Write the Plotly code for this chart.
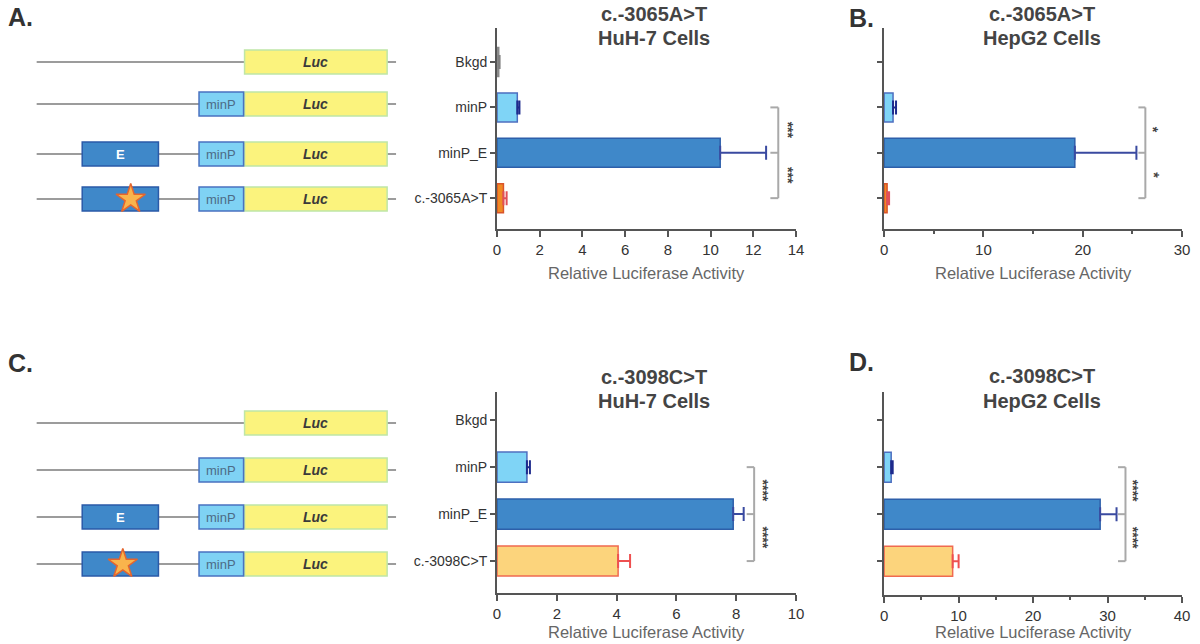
import plotly.graph_objects as go

W, H = 1200, 644

# ---------------- data ----------------
cats_A = ["Bkgd", "minP", "minP_E", "c.-3065A>T"]
cats_C = ["Bkgd", "minP", "minP_E", "c.-3098C>T"]

huh7_3065_mean = [0.08, 0.95, 10.45, 0.30]
huh7_3065_top = [0.12, 1.05, 12.60, 0.45]
hepg2_3065_mean = [0.0, 0.90, 19.2, 0.30]
hepg2_3065_top = [0.0, 1.20, 25.4, 0.50]
huh7_3098_mean = [0.0, 1.00, 7.90, 4.05]
huh7_3098_top = [0.0, 1.10, 8.25, 4.45]
hepg2_3098_mean = [0.0, 0.95, 29.0, 9.2]
hepg2_3098_top = [0.0, 1.15, 31.2, 10.0]

sig_A = ["***", "***"]
sig_B = ["*", "*"]
sig_C = ["****", "****"]
sig_D = ["****", "****"]

x_ticks_A = [0, 2, 4, 6, 8, 10, 12, 14]
x_ticks_B = [0, 10, 20, 30]
x_ticks_C = [0, 2, 4, 6, 8, 10]
x_ticks_D = [0, 10, 20, 30, 40]

FONT = "Liberation Sans, Arial, sans-serif"
TXT = "#333333"

fill_3065 = ["#9a9a9a", "#7fd4f6", "#3f88c9", "#f08a24"]
line_3065 = ["#8a8a8a", "#4d6fc0", "#2d5faa", "#d9542a"]
err_3065 = ["#808080", "#1d2a8c", "#3a4aa0", "#e0505a"]
fill_3098 = ["#9a9a9a", "#7fd4f6", "#3f88c9", "#fcd47c"]
line_3098 = ["#8a8a8a", "#4d6fc0", "#2d5faa", "#f06a50"]
err_3098 = ["#808080", "#1d2a8c", "#3a4aa0", "#ee5050"]

fig = go.Figure()


def px_x(p):
    return p / W


def px_y(p):
    return 1 - p / H


def ann(**kw):
    d = dict(showarrow=False, xanchor="center", yanchor="middle")
    d.update(kw)
    return d


panels = [
    dict(ax="", cats=cats_A, m=huh7_3065_mean, t=huh7_3065_top, f=fill_3065, l=line_3065, e=err_3065,
         xr=[0, 14], tk=x_ticks_A, minor=None, xd=(498, 800), yd=(28, 229), yr=[3.68, -0.75], lab=True,
         bx=13.17, btk=12.8, sx=13.6, sig=sig_A, tty=273),
    dict(ax="2", cats=cats_A, m=hepg2_3065_mean, t=hepg2_3065_top, f=fill_3065, l=line_3065, e=err_3065,
         xr=[0, 30], tk=x_ticks_B, minor=5, xd=(889, 1190), yd=(28, 229), yr=[3.68, -0.75], lab=False,
         bx=26.3, btk=25.6, sx=27.1, sig=sig_B, tty=273),
    dict(ax="3", cats=cats_C, m=huh7_3098_mean, t=huh7_3098_top, f=fill_3098, l=line_3098, e=err_3098,
         xr=[0, 10], tk=x_ticks_C, minor=None, xd=(498, 800), yd=(392, 593), yr=[3.68, -0.6], lab=True,
         bx=8.6, btk=8.35, sx=8.9, sig=sig_C, tty=632),
    dict(ax="4", cats=cats_C, m=hepg2_3098_mean, t=hepg2_3098_top, f=fill_3098, l=line_3098, e=err_3098,
         xr=[0, 40], tk=x_ticks_D, minor=5, xd=(889, 1190), yd=(392, 595), yr=[3.72, -0.6], lab=False,
         bx=32.4, btk=31.4, sx=33.4, sig=sig_D, tty=632),
]

layout = {}
shapes = []
annotations = []

for p in panels:
    xa = "x" + p["ax"]
    ya = "y" + p["ax"]
    for i, c in enumerate(p["cats"]):
        if p["m"][i] <= 0 and p["t"][i] <= 0:
            continue
        fig.add_trace(go.Bar(
            x=[p["m"][i]], y=[i], orientation="h", width=0.64,
            marker=dict(color=p["f"][i], line=dict(color=p["l"][i], width=1.5)),
            error_x=dict(type="data", symmetric=False, array=[p["t"][i] - p["m"][i]], arrayminus=[0],
                         color=p["e"][i], thickness=2, width=7),
            xaxis=xa, yaxis=ya, showlegend=False, hoverinfo="skip"))
    xkey = "xaxis" + p["ax"]
    ykey = "yaxis" + p["ax"]
    xaxis = dict(domain=[px_x(p["xd"][0]), px_x(p["xd"][1])], range=p["xr"], anchor=ya,
                 tickmode="array", tickvals=p["tk"], ticks="outside", ticklen=6, tickwidth=2,
                 tickcolor="#555555", showline=True, linecolor="#555555", linewidth=2,
                 showgrid=False, zeroline=False, fixedrange=True,
                 tickfont=dict(family=FONT, size=15, color=TXT))
    if p["minor"]:
        xaxis["minor"] = dict(dtick=p["minor"], ticks="outside", ticklen=3, tickwidth=1.5,
                              tickcolor="#555555", showgrid=False)
    layout[xkey] = xaxis
    layout[ykey] = dict(domain=[px_y(p["yd"][1]), px_y(p["yd"][0])], range=p["yr"], anchor=xa,
                        tickmode="array", tickvals=[0, 1, 2, 3],
                        ticktext=p["cats"] if p["lab"] else ["", "", "", ""],
                        ticks="outside", ticklen=5, tickwidth=1.5, tickcolor="#555555",
                        showline=True, linecolor="#555555", linewidth=2, showgrid=False,
                        zeroline=False, fixedrange=True,
                        tickfont=dict(family=FONT, size=14, color=TXT))
    # significance brackets
    br = dict(type="line", xref=xa, yref=ya, line=dict(color="#a9a9a9", width=2))
    shapes.append(dict(br, x0=p["bx"], x1=p["bx"], y0=1, y1=3))
    for yy in (1, 2, 3):
        shapes.append(dict(br, x0=p["btk"], x1=p["bx"], y0=yy, y1=yy))
    for k, yy in enumerate((1.5, 2.5)):
        annotations.append(ann(x=p["sx"], y=yy, xref=xa, yref=ya, text="<b>%s</b>" % p["sig"][k],
                               textangle=90, font=dict(family=FONT, size=14, color="#444444")))
    # x axis title
    annotations.append(ann(x=(p["xd"][0] + p["xd"][1]) / 2 / W, y=px_y(p["tty"]), xref="paper",
                           yref="paper", text="Relative Luciferase Activity",
                           font=dict(family=FONT, size=16.5, color="#666666")))

# titles
titles = [
    (657, 14, "c.-3065A>T"), (657, 38, "HuH-7 Cells"),
    (1048, 14, "c.-3065A>T"), (1048, 38, "HepG2 Cells"),
    (657, 377, "c.-3098C>T"), (657, 401, "HuH-7 Cells"),
    (1048, 376, "c.-3098C>T"), (1048, 401, "HepG2 Cells"),
]
for tx, ty, tt in titles:
    annotations.append(ann(x=px_x(tx), y=px_y(ty), xref="paper", yref="paper", text="<b>%s</b>" % tt,
                           font=dict(family=FONT, size=20, color="#444444")))

for tx, ty, tt in [(17, 17, "A."), (866, 18, "B."), (17, 363, "C."), (866, 362, "D.")]:
    annotations.append(ann(x=px_x(tx), y=px_y(ty), xref="paper", yref="paper", text="<b>%s</b>" % tt,
                           font=dict(family=FONT, size=25, color="#333333")))

# ---------------- construct diagrams (pixel canvas axis x5/y5) ----------------
layout["xaxis5"] = dict(domain=[0, 1], range=[0, W], visible=False, anchor="y5", fixedrange=True)
layout["yaxis5"] = dict(domain=[0, 1], range=[H, 0], visible=False, anchor="x5", fixedrange=True)

rows_top = [62, 104, 154, 199]
rows_bot = [423, 470, 517, 564]
star_x_top = 128
star_x_bot = 120
has_minP = [False, True, True, True]
has_E = [False, False, True, True]
has_star = [False, False, False, True]

star_pts_x = []
star_pts_y = []
for rows, sx in ((rows_top, star_x_top), (rows_bot, star_x_bot)):
    for i, yc in enumerate(rows):
        cv = dict(xref="x5", yref="y5", layer="below")
        shapes.append(dict(cv, type="line", x0=33, x1=396, y0=yc, y1=yc,
                           line=dict(color="#9c9c9c", width=2)))
        shapes.append(dict(cv, type="rect", x0=243, x1=387, y0=yc - 12, y1=yc + 12,
                           fillcolor="#fbf37d", line=dict(color="#bfe6a6", width=1.5)))
        annotations.append(ann(x=315, y=yc, xref="x5", yref="y5", text="<b><i>Luc</i></b>",
                               font=dict(family=FONT, size=14, color="#3a3a3a")))
        if has_minP[i]:
            shapes.append(dict(cv, type="rect", x0=197, x1=242, y0=yc - 12, y1=yc + 12,
                               fillcolor="#7fd2f4", line=dict(color="#4a72c0", width=1.5)))
            annotations.append(ann(x=219.5, y=yc, xref="x5", yref="y5", text="minP",
                                   font=dict(family=FONT, size=13, color="#4d6b86")))
        if has_E[i]:
            shapes.append(dict(cv, type="rect", x0=79, x1=156, y0=yc - 12, y1=yc + 12,
                               fillcolor="#3f88c9", line=dict(color="#2a5aa8", width=1.5)))
            if not has_star[i]:
                annotations.append(ann(x=117.5, y=yc, xref="x5", yref="y5", text="<b>E</b>",
                                       font=dict(family=FONT, size=13, color="#ffffff")))
        if has_star[i]:
            star_pts_x.append(sx)
            star_pts_y.append(yc)

fig.add_trace(go.Scatter(x=star_pts_x, y=star_pts_y, mode="markers", xaxis="x5", yaxis="y5",
                         marker=dict(symbol="star", size=22, color="#f9b44c",
                                     line=dict(color="#e5652e", width=1.5)),
                         showlegend=False, hoverinfo="skip", cliponaxis=False))

fig.update_layout(width=W, height=H, margin=dict(l=0, r=0, t=0, b=0), paper_bgcolor="white",
                  plot_bgcolor="rgba(0,0,0,0)", shapes=shapes, annotations=annotations,
                  barmode="overlay", **layout)

fig.write_html("out.html", config={"displayModeBar": False},
               post_script="document.body.style.margin='0';document.body.style.overflow='hidden';")
